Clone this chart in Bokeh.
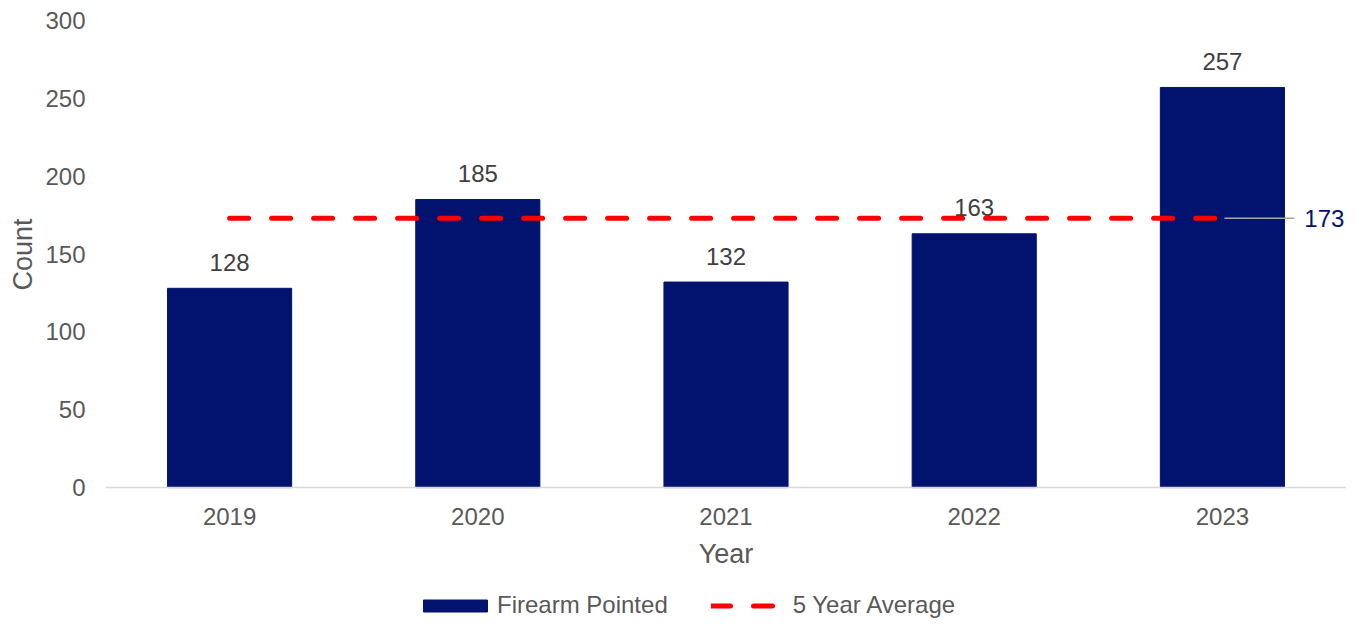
from bokeh.plotting import figure
from bokeh.models import (ColumnDataSource, Legend, LegendItem, Range1d, FactorRange,
                          FixedTicker, Title)
from bokeh.transform import dodge
from bokeh.core.properties import value
from bokeh.embed import file_html
from bokeh.resources import INLINE

# ---- data ----
years = ["2019", "2020", "2021", "2022", "2023"]
counts = [128, 185, 132, 163, 257]
avg = [173, 173, 173, 173, 173]
y_ticks = [0, 50, 100, 150, 200, 250, 300]
series_names = ["Firearm Pointed", "5 Year Average"]
avg_label = ["173"]

FONT = "Liberation Sans"
BAR = "#02126F"
RED = "#FF0000"
GREY_TXT = "#595959"
LBL_TXT = "#404040"
FS = "24px"
TITLE_FS = "27px"

src = ColumnDataSource(dict(year=years, count=counts, avg=avg,
                            lbl=[str(c) for c in counts]))
end_src = ColumnDataSource(dict(x=[years[-1]], y=[avg[-1]], t=avg_label))

# frame spans the whole lower area so that the legend can sit under the axis;
# the x axis is pinned at y = 0
p = figure(x_range=FactorRange(factors=years, range_padding=0),
           y_range=Range1d(-86, 300),
           width=1346, height=621, output_backend="svg", toolbar_location=None,
           min_border_left=103, min_border_right=0, min_border_top=20,
           min_border_bottom=0)
p.outline_line_color = None
p.grid.visible = False
p.background_fill_color = "white"

r_bar = p.vbar(x="year", top="count", width=0.5, source=src,
               fill_color=BAR, line_color=BAR)

p.text(x="year", y="count", text="lbl", source=src, y_offset=-26,
       text_align="center", text_baseline="middle",
       text_font=value(FONT), text_font_size=FS, text_color=LBL_TXT)

r_avg = p.line(x="year", y="avg", source=src, line_color=RED, line_width=5,
               line_dash="19 23", line_cap="round")

p.segment(x0=dodge("x", 0.008, range=p.x_range), y0="y",
          x1=dodge("x", 0.29, range=p.x_range), y1="y", source=end_src,
          line_color="#A6A6A6", line_width=1.5)
p.text(x=dodge("x", 0.33, range=p.x_range), y="y", text="t", source=end_src,
       text_align="left", text_baseline="middle",
       text_font=value(FONT), text_font_size=FS, text_color=BAR)

# axes
for ax in (p.xaxis[0], p.yaxis[0]):
    ax.major_tick_line_color = None
    ax.minor_tick_line_color = None
    ax.major_tick_out = 0
    ax.major_tick_in = 0
    ax.minor_tick_out = 0
    ax.major_label_text_font = FONT
    ax.major_label_text_font_size = FS
    ax.major_label_text_color = GREY_TXT
    ax.axis_label_text_font = FONT
    ax.axis_label_text_font_size = TITLE_FS
    ax.axis_label_text_font_style = "normal"
    ax.axis_label_text_color = GREY_TXT

p.xaxis.fixed_location = 0
p.xaxis.axis_label = "Year"
p.xaxis.axis_line_color = "#D9D9D9"
p.xaxis.axis_line_width = 1.5
p.xaxis.major_label_standoff = 20
p.xaxis.axis_label_standoff = 11

p.yaxis.axis_label = None
p.yaxis.axis_line_color = None
p.yaxis.ticker = FixedTicker(ticks=y_ticks)
p.yaxis.major_label_standoff = 20

ytitle = Title(text="Count", align="right", offset=198, standoff=10,
               text_font=FONT, text_font_size=TITLE_FS, text_font_style="normal",
               text_color=GREY_TXT)
p.add_layout(ytitle, "left")

legend = Legend(items=[LegendItem(label=series_names[0], renderers=[r_bar]),
                       LegendItem(label=series_names[1], renderers=[r_avg])],
                orientation="horizontal", padding=0, margin=0, spacing=43,
                border_line_color=None, background_fill_alpha=0,
                label_text_font=FONT, label_text_font_size=FS,
                label_text_color=GREY_TXT, glyph_height=15, glyph_width=80,
                label_standoff=2, location=(310, 2))
p.add_layout(legend)

open("out.html", "w").write(file_html(p, INLINE))
